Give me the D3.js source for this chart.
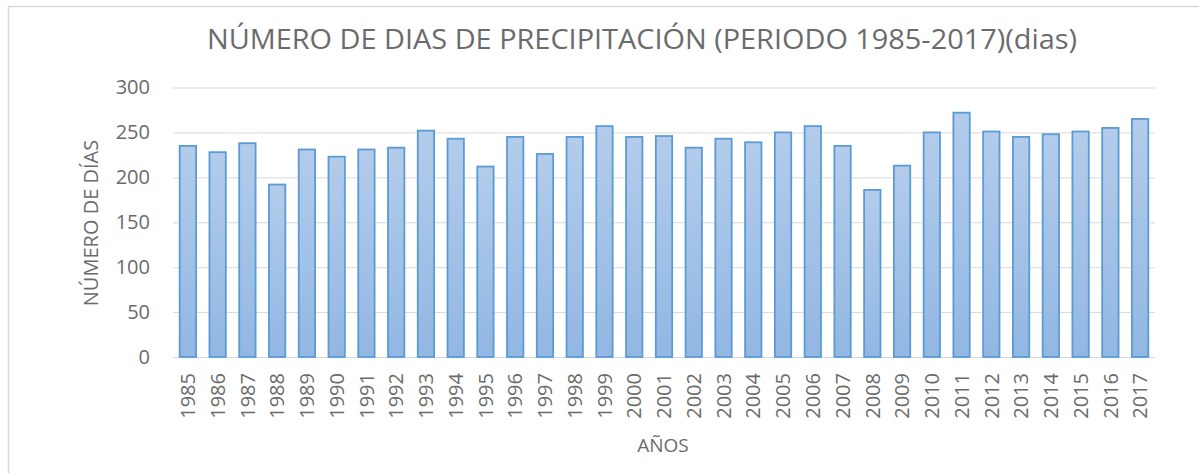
<!DOCTYPE html>
<html lang="es">
<head>
<meta charset="UTF-8">
<title>Número de dias de precipitación</title>
<script src="https://d3js.org/d3.v7.min.js"></script>
<style>
  body{margin:0;background:#fff;}
  .chart text{font-family:"Open Sans",sans-serif;fill:#6b6b6b;}
  .grid line{stroke:#d9d9d9;stroke-width:1;}
  .grid path{display:none;}
  .axis--x path,.axis--x line,.axis--y path,.axis--y line{display:none;}
</style>
</head>
<body>
<svg class="chart"></svg>
<script>
let years=['1985','1986','1987','1988','1989','1990','1991','1992','1993','1994','1995','1996','1997','1998','1999','2000','2001','2002','2003','2004','2005','2006','2007','2008','2009','2010','2011','2012','2013','2014','2015','2016','2017'];
let dias=[235,228,238,192,231,223,231,233,252,243,212,245,226,245,257,245,246,233,243,239,250,257,235,186,213,250,272,251,245,248,251,255,265];
let yTicks=[0,50,100,150,200,250,300];

let title='NÚMERO DE DIAS DE PRECIPITACIÓN (PERIODO 1985-2017)(dias)';
let yTitle='NÚMERO DE DÍAS';
let xTitle='AÑOS';

let W=1199,H=473;
let margin={top:87.5,right:44,bottom:116,left:173};
let width=W-margin.left-margin.right,height=H-margin.top-margin.bottom;

let svg=d3.select('.chart').attr('width',W).attr('height',H);

// chart frame
svg.append('rect')
   .attr('x',8.5).attr('y',6.5)
   .attr('width',W+20).attr('height',H+20)
   .attr('fill','none').attr('stroke','#d9d9d9').attr('stroke-width',1.5);

let defs=svg.append('defs');
let grad=defs.append('linearGradient').attr('id','barGrad')
   .attr('x1',0).attr('y1',0).attr('x2',0).attr('y2',1);
grad.append('stop').attr('offset','0%').attr('stop-color','#b3cceb');
grad.append('stop').attr('offset','100%').attr('stop-color','#92b7e3');

let x=d3.scaleBand().domain(years).range([0,width]).paddingInner(0.45).paddingOuter(0.225);
let y=d3.scaleLinear().domain([0,300]).range([height,0]);

let chart=svg.append('g').attr('transform','translate('+margin.left+','+margin.top+')');

chart.append('g')
   .attr('class','grid')
   .call(d3.axisLeft(y).tickValues(yTicks).tickSize(-width).tickFormat(''));

chart.append('g')
   .attr('class','axis axis--y')
   .call(d3.axisLeft(y).tickValues(yTicks).tickSize(0).tickPadding(23))
   .selectAll('text')
   .style('font-size','20px');

chart.selectAll('.bar')
   .data(years).enter()
   .append('rect')
   .attr('class','bar')
   .attr('x',(d)=>x(d))
   .attr('y',(d,i)=>y(dias[i]))
   .attr('width',x.bandwidth())
   .attr('height',(d,i)=>height-y(dias[i]))
   .attr('fill','url(#barGrad)')
   .attr('stroke','#5b9bd5')
   .attr('stroke-width',1.8);

let xAxis=chart.append('g')
   .attr('class','axis axis--x')
   .attr('transform','translate(0,'+height+')')
   .call(d3.axisBottom(x).tickSize(0));
xAxis.selectAll('text')
   .style('font-size','20px')
   .attr('text-anchor','end')
   .attr('transform','rotate(-90)')
   .attr('x',-16)
   .attr('y',0)
   .attr('dy','0.36em');

svg.append('text')
   .attr('x',642).attr('y',49)
   .attr('text-anchor','middle')
   .attr('textLength',870)
   .attr('lengthAdjust','spacingAndGlyphs')
   .style('font-size','26.5px')
   .text(title);

svg.append('text')
   .attr('transform','translate(98,223) rotate(-90)')
   .attr('text-anchor','middle')
   .style('font-size','20px')
   .text(yTitle);

svg.append('text')
   .attr('x',663).attr('y',452)
   .attr('text-anchor','middle')
   .style('font-size','19px')
   .text(xTitle);
</script>
</body>
</html>
